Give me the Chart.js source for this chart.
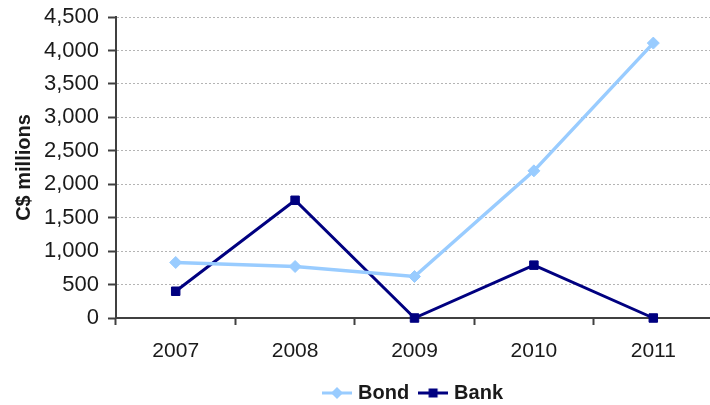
<!DOCTYPE html>
<html>
<head>
<meta charset="utf-8">
<script src="https://cdn.jsdelivr.net/npm/chart.js@4"></script>
<style>
    html, body { margin: 0; padding: 0; background: #fff; overflow: hidden; }
    canvas { display: block; }
</style>
</head>
<body>
<canvas id="issuanceChart" width="716" height="405"></canvas>
<script>
// data
const YEARS = ['2007', '2008', '2009', '2010', '2011'];
const BOND  = [830, 770, 620, 2200, 4110];
const BANK  = [400, 1760, 0, 790, 0];
const Y_TICKS = [0, 500, 1000, 1500, 2000, 2500, 3000, 3500, 4000, 4500];

const BOND_COLOR = '#99ccff';
const BANK_COLOR = '#000080';
const AXIS_COLOR = '#404040';
const TEXT_COLOR = '#1a1a1a';

// little line + marker swatch for the legend
function legendSwatch(color, style) {
    const c = document.createElement('canvas');
    c.width = 30;
    c.height = 14;
    const g = c.getContext('2d');
    g.strokeStyle = color;
    g.fillStyle = color;
    g.lineWidth = 3;
    g.beginPath();
    g.moveTo(0, 7);
    g.lineTo(30, 7);
    g.stroke();
    g.beginPath();
    if (style === 'rectRot') {
        g.moveTo(15, 1); g.lineTo(21, 7); g.lineTo(15, 13); g.lineTo(9, 7);
    } else {
        g.rect(10.5, 2.5, 9, 9);
    }
    g.fill();
    return c;
}

const ctx = document.getElementById('issuanceChart').getContext('2d');

new Chart(ctx, {
    type: 'line',
    data: {
        labels: YEARS,
        datasets: [
            {
                label: 'Bond',
                data: BOND,
                borderColor: BOND_COLOR,
                backgroundColor: BOND_COLOR,
                borderWidth: 3.5,
                pointStyle: 'rectRot',
                pointRadius: 6,
                pointBorderWidth: 1,
                tension: 0,
                clip: false,
            },
            {
                label: 'Bank',
                data: BANK,
                borderColor: BANK_COLOR,
                backgroundColor: BANK_COLOR,
                borderWidth: 3,
                pointStyle: 'rect',
                pointRadius: 6,
                pointBorderWidth: 1,
                tension: 0,
                clip: false,
            },
        ],
    },
    options: {
        responsive: false,
        animation: false,
        layout: {
            autoPadding: false,
            padding: { top: 17, right: 3, bottom: 0, left: 0 },
        },
        plugins: {
            tooltip: { enabled: false },
            legend: {
                position: 'bottom',
                fullSize: false,
                maxHeight: 35,
                labels: {
                    usePointStyle: true,
                    pointStyleWidth: 22,
                    padding: 13,
                    color: TEXT_COLOR,
                    font: { family: 'Liberation Sans, Arial, sans-serif', size: 20, weight: 'bold' },
                    generateLabels: chart => chart.data.datasets.map((ds, i) => ({
                        text: ds.label,
                        datasetIndex: i,
                        fontColor: TEXT_COLOR,
                        pointStyle: legendSwatch(ds.borderColor, ds.pointStyle),
                        lineWidth: 0,
                        hidden: false,
                    })),
                },
            },
        },
        scales: {
            x: {
                offset: true,
                afterFit: scale => { scale.height = 52; },
                grid: {
                    offset: true,
                    drawOnChartArea: false,
                    drawTicks: true,
                    tickLength: 7,
                    tickColor: AXIS_COLOR,
                    tickWidth: 2,
                },
                border: { color: AXIS_COLOR, width: 2 },
                ticks: {
                    padding: 14,
                    color: TEXT_COLOR,
                    font: { family: 'Liberation Sans, Arial, sans-serif', size: 21 },
                    maxRotation: 0,
                },
            },
            y: {
                min: 0,
                max: 4500,
                afterFit: scale => {
                    scale.width = 116;
                    scale.paddingTop = 0;
                    scale.paddingBottom = 0;
                },
                afterBuildTicks: scale => { scale.ticks = Y_TICKS.map(v => ({ value: v })); },
                grid: {
                    color: '#b4b4b4',
                    lineWidth: 1,
                    tickLength: 8,
                    tickColor: AXIS_COLOR,
                    tickWidth: 2,
                    tickBorderDash: [],
                },
                border: { color: AXIS_COLOR, width: 2, dash: [2, 2] },
                ticks: {
                    padding: 9,
                    color: TEXT_COLOR,
                    font: { family: 'Liberation Sans, Arial, sans-serif', size: 22 },
                    callback: v => v.toLocaleString('en-US'),
                },
                title: {
                    display: true,
                    text: 'C$ millions',
                    color: TEXT_COLOR,
                    padding: { top: 12, bottom: 0 },
                    font: { family: 'Liberation Sans, Arial, sans-serif', size: 20, weight: 'bold' },
                },
            },
        },
    },
});
</script>
</body>
</html>
